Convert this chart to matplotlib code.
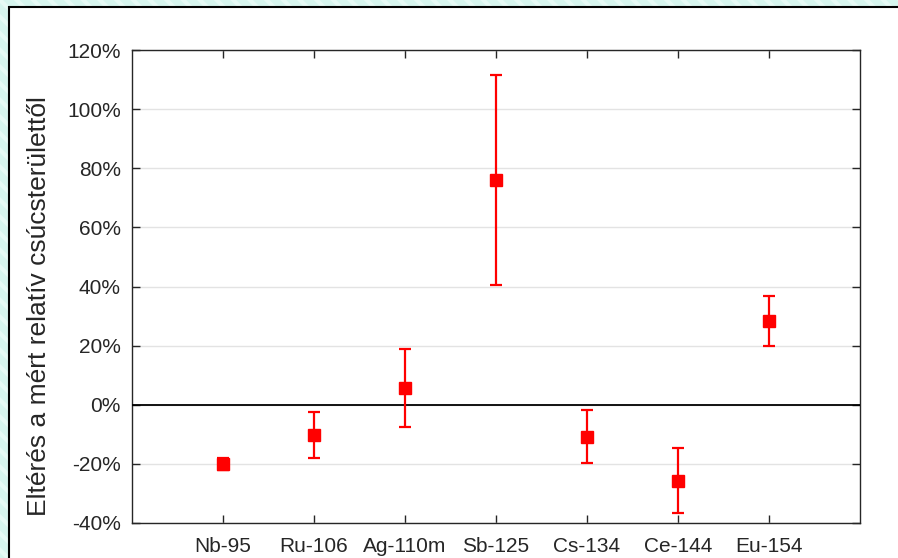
import numpy as np
import matplotlib
matplotlib.use("Agg")
import matplotlib.pyplot as plt
from matplotlib.patches import Rectangle

plt.rcParams["font.family"] = ["Liberation Sans", "DejaVu Sans"]
plt.rcParams["hatch.linewidth"] = 3

# adatok: izotópok, eltérés (%) és hibák (%)
izotopok = ["Nb-95", "Ru-106", "Ag-110m", "Sb-125", "Cs-134", "Ce-144", "Eu-154"]
elteres = [-20.0, -10.2, 5.7, 76.0, -10.8, -25.7, 28.4]
hiba = [2.0, 7.8, 13.2, 35.6, 9.0, 11.0, 8.5]

fig = plt.figure(figsize=(8.98, 5.58), dpi=100)
fig.patch.set_facecolor("#d6f5ee")

# halvány csíkos háttér
hatter = Rectangle((0, 0), 1, 1, transform=fig.transFigure, facecolor="#d6f5ee",
                   edgecolor="#e6faf5", hatch="\\\\", linewidth=0, zorder=-2)
fig.patches.append(hatter)

# fehér panel fekete kerettel
panel = Rectangle((9 / 898, -0.1), 1.2, 1 - 7 / 558 + 0.1, transform=fig.transFigure,
                  facecolor="white", edgecolor="black", linewidth=1.5, zorder=-1)
fig.patches.append(panel)

ax = fig.add_axes([132 / 898, 1 - 523 / 558, (860 - 132) / 898, (523 - 50) / 558])
ax.set_zorder(1)
ax.set_facecolor("white")

x = np.arange(1, len(izotopok) + 1)
ax.errorbar(x, elteres, yerr=hiba, fmt="s", color="red", ecolor="red",
            markersize=8.8, elinewidth=1.6, capsize=4, capthick=1.6, zorder=5)

ax.axhline(0, color="black", linewidth=1.3, zorder=3)

ax.set_xlim(0, 8)
ax.set_ylim(-40, 120)
ax.set_xticks(x)
ax.set_xticklabels(izotopok)
yt = np.arange(-40, 121, 20)
ax.set_yticks(yt)
ax.set_yticklabels([f"{v}%" for v in yt])

ax.yaxis.grid(True, color="#e3e3e3", linewidth=1)
ax.set_axisbelow(True)

ax.tick_params(direction="in", length=6, width=1, colors="#262626",
               labelsize=15, top=True, right=True)
ax.tick_params(axis="x", pad=10)
ax.tick_params(axis="y", pad=8)
for s in ax.spines.values():
    s.set_color("#262626")
    s.set_linewidth(1)

ax.set_ylabel("Eltérés a mért relatív csúcsterülettől", fontsize=19, color="#262626")
ax.yaxis.set_label_coords(-0.111, 0.459)

fig.savefig("out.png", dpi=100, facecolor=fig.get_facecolor())
